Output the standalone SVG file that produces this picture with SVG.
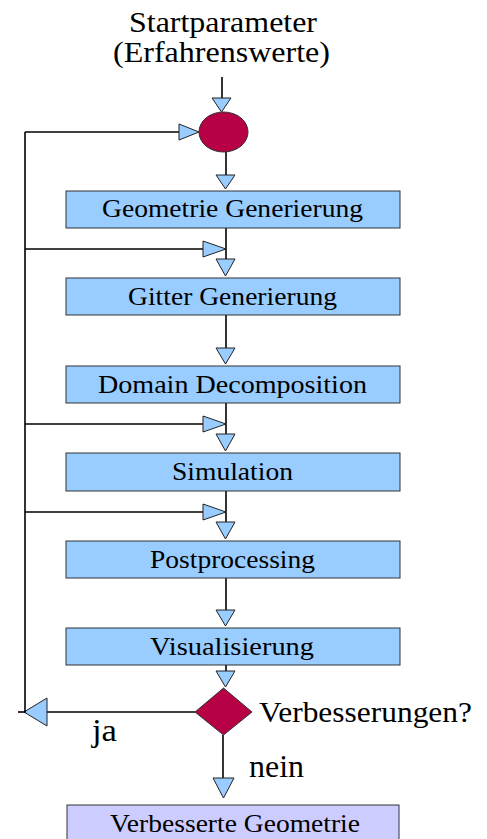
<svg xmlns="http://www.w3.org/2000/svg" width="487" height="839" viewBox="0 0 487 839">
<style>
.box{fill:#99CCFF;stroke:#333;stroke-width:1}
.box2{fill:#CCCCFF;stroke:#333;stroke-width:1}
.dec{fill:#B80047;stroke:#333;stroke-width:1}
.ln{fill:none;stroke:#000;stroke-width:1.6}
.ah{fill:#99CCFF;stroke:#222;stroke-width:1}
</style>
<rect width="487" height="839" fill="#fff"/>
<g id="start-label" font-family="Liberation Serif, serif" font-size="30">
<text x="129" y="32" textLength="188" lengthAdjust="spacingAndGlyphs">Startparameter</text>
<text x="113" y="62" textLength="217" lengthAdjust="spacingAndGlyphs">(Erfahrenswerte)</text>
</g>
<g id="connectors">
<line class="ln" x1="222" y1="77" x2="222" y2="100"/>
<polygon class="ah" points="212,98 231,98 221.5,112"/>
<line class="ln" x1="25" y1="132" x2="182" y2="132"/>
<polygon class="ah" points="179,124 179,140 199,132"/>
<line class="ln" x1="226" y1="152" x2="226" y2="177"/>
<polygon class="ah" points="216,175 235,175 225.5,189"/>
<line class="ln" x1="226" y1="228" x2="226" y2="260"/>
<line class="ln" x1="25" y1="249" x2="205" y2="249"/>
<polygon class="ah" points="203,241 203,257 226,249"/>
<polygon class="ah" points="216,259 235,259 225.5,276"/>
<line class="ln" x1="226" y1="315" x2="226" y2="350"/>
<polygon class="ah" points="216,348 235,348 225.5,364"/>
<line class="ln" x1="226" y1="403" x2="226" y2="435"/>
<line class="ln" x1="25" y1="424" x2="205" y2="424"/>
<polygon class="ah" points="203,416 203,432 226,424"/>
<polygon class="ah" points="216,434 235,434 225.5,451"/>
<line class="ln" x1="226" y1="491" x2="226" y2="523"/>
<line class="ln" x1="25" y1="512" x2="205" y2="512"/>
<polygon class="ah" points="203,504 203,520 226,512"/>
<polygon class="ah" points="216,522 235,522 225.5,539"/>
<line class="ln" x1="226" y1="578" x2="226" y2="610"/>
<polygon class="ah" points="216,610 235,610 225.5,626"/>
<line class="ln" x1="226" y1="665" x2="226" y2="673"/>
<polygon class="ah" points="216,671 235,671 225.5,687"/>
<line class="ln" x1="195" y1="712" x2="45" y2="712"/>
<polygon class="ah" points="47,698 47,726 24,712"/>
<line class="ln" x1="25" y1="132" x2="25" y2="713"/>
<line class="ln" x1="18" y1="712" x2="26" y2="712"/>
<line class="ln" x1="223" y1="735" x2="223" y2="780"/>
<polygon class="ah" points="213,778 234,778 223.5,798"/>
<g font-family="Liberation Serif, serif" font-size="31">
<text x="92" y="741" textLength="25" lengthAdjust="spacingAndGlyphs">ja</text>
<text x="249" y="777" textLength="55" lengthAdjust="spacingAndGlyphs">nein</text>
</g>
</g>
<g id="start">
<ellipse class="dec" cx="223.5" cy="132" rx="24.5" ry="20"/>
</g>
<g font-family="Liberation Serif, serif" font-size="25">
<g id="geometrie">
<rect class="box" x="66" y="191" width="334" height="37"/>
<text x="102" y="217" textLength="261" lengthAdjust="spacingAndGlyphs">Geometrie Generierung</text>
</g>
<g id="gitter">
<rect class="box" x="66" y="278" width="334" height="37"/>
<text x="128" y="305" textLength="209" lengthAdjust="spacingAndGlyphs">Gitter Generierung</text>
</g>
<g id="domain">
<rect class="box" x="66" y="366" width="334" height="37"/>
<text x="98" y="393" textLength="269" lengthAdjust="spacingAndGlyphs">Domain Decomposition</text>
</g>
<g id="simulation">
<rect class="box" x="66" y="453" width="334" height="38"/>
<text x="172" y="480" textLength="121" lengthAdjust="spacingAndGlyphs">Simulation</text>
</g>
<g id="postprocessing">
<rect class="box" x="66" y="541" width="334" height="37"/>
<text x="150" y="568" textLength="165" lengthAdjust="spacingAndGlyphs">Postprocessing</text>
</g>
<g id="visualisierung">
<rect class="box" x="66" y="628" width="334" height="37"/>
<text x="150" y="655" textLength="164" lengthAdjust="spacingAndGlyphs">Visualisierung</text>
</g>
<g id="result">
<rect class="box2" x="67" y="805" width="332" height="40"/>
<text x="110" y="832" textLength="250" lengthAdjust="spacingAndGlyphs">Verbesserte Geometrie</text>
</g>
</g>
<g id="decision">
<polygon class="dec" points="223.5,688 252,712 223.5,735 195,712"/>
<text x="259" y="722" font-family="Liberation Serif, serif" font-size="29" textLength="213" lengthAdjust="spacingAndGlyphs">Verbesserungen?</text>
</g>
</svg>
